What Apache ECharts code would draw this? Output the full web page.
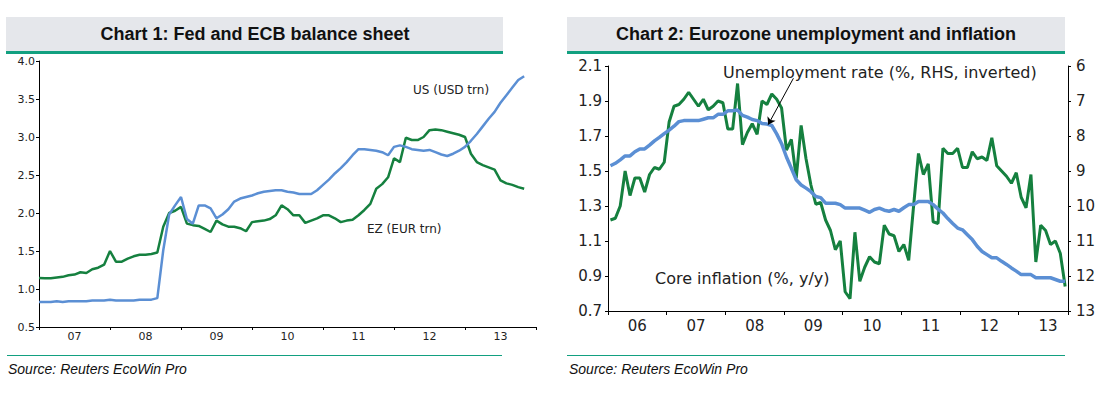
<!DOCTYPE html>
<html><head><meta charset="utf-8">
<script src="https://cdn.jsdelivr.net/npm/echarts@6/dist/echarts.min.js"></script>
<style>html,body{margin:0;padding:0;background:#fff}#c{width:1114px;height:396px}</style>
</head><body><div id="c"></div>
<script>
// ---------- Chart 1: Fed and ECB balance sheet (monthly, from Jan 2007) ----------
const c1StartYear = 2007;
const c1YearLabels = ['07','08','09','10','11','12','13'];
const c1YTicks = [0.5, 1.0, 1.5, 2.0, 2.5, 3.0, 3.5, 4.0];
const usBalance = [
  0.83,0.83,0.83,0.84,0.83,0.84,0.84,0.84,0.84,0.85,0.85,0.85,
  0.86,0.85,0.85,0.85,0.85,0.86,0.86,0.86,0.88,1.51,1.98,2.10,
  2.21,1.92,1.86,2.10,2.10,2.06,1.93,1.98,2.05,2.15,2.19,2.21,
  2.23,2.26,2.28,2.29,2.30,2.30,2.28,2.27,2.25,2.25,2.25,2.30,
  2.37,2.44,2.52,2.59,2.67,2.76,2.84,2.84,2.83,2.82,2.80,2.76,
  2.87,2.89,2.87,2.84,2.83,2.82,2.83,2.80,2.77,2.75,2.78,2.82,
  2.87,2.95,3.04,3.14,3.24,3.33,3.45,3.55,3.65,3.75,3.80
];
const ezBalance = [
  1.145,1.14,1.14,1.15,1.16,1.18,1.19,1.22,1.21,1.26,1.28,1.32,
  1.50,1.36,1.36,1.40,1.43,1.45,1.45,1.46,1.48,1.82,2.00,2.03,
  2.08,1.86,1.84,1.83,1.79,1.75,1.90,1.85,1.82,1.82,1.80,1.76,
  1.88,1.89,1.90,1.92,1.97,2.10,2.05,1.97,1.97,1.87,1.90,1.93,
  1.97,1.97,1.93,1.88,1.90,1.91,1.97,2.04,2.12,2.32,2.38,2.47,
  2.72,2.67,2.99,2.96,2.96,3.00,3.09,3.10,3.09,3.07,3.05,3.03,
  3.00,2.78,2.67,2.63,2.60,2.57,2.43,2.39,2.37,2.34,2.32
];

// ---------- Chart 2: Eurozone unemployment and inflation (monthly, from Jan 2006) ----------
const c2StartYear = 2006;
const c2YearLabels = ['06','07','08','09','10','11','12','13'];
const coreInflation = [
  1.22,1.23,1.30,1.50,1.36,1.46,1.46,1.38,1.48,1.52,1.51,1.55,
  1.78,1.87,1.88,1.91,1.95,1.91,1.87,1.91,1.85,1.87,1.90,1.89,
  1.74,1.74,2.00,1.65,1.72,1.77,1.71,1.90,1.88,1.94,1.91,1.86,
  1.62,1.68,1.46,1.76,1.57,1.42,1.31,1.32,1.22,1.16,1.05,1.10,
  0.81,0.77,1.15,0.87,0.95,1.01,0.98,0.97,1.19,1.14,1.13,1.04,
  1.08,0.99,1.30,1.60,1.48,1.54,1.21,1.20,1.63,1.60,1.60,1.63,
  1.52,1.52,1.61,1.57,1.58,1.56,1.69,1.53,1.50,1.47,1.43,1.49,
  1.35,1.29,1.48,0.98,1.19,1.16,1.08,1.10,1.03,0.84
];
const unemployment = [
  8.85,8.78,8.68,8.57,8.57,8.45,8.37,8.37,8.26,8.14,8.04,7.93,
  7.83,7.72,7.59,7.56,7.56,7.56,7.56,7.52,7.48,7.48,7.38,7.38,
  7.28,7.28,7.26,7.41,7.46,7.53,7.56,7.64,7.66,7.70,7.94,8.22,
  8.60,8.92,9.25,9.40,9.49,9.59,9.73,9.76,9.92,9.92,9.92,9.96,
  10.06,10.06,10.06,10.06,10.12,10.18,10.10,10.06,10.12,10.15,10.10,10.15,
  10.05,9.96,9.96,9.87,9.87,9.87,9.96,10.09,10.20,10.36,10.50,10.63,
  10.68,10.82,10.96,11.15,11.30,11.39,11.48,11.48,11.58,11.67,11.77,11.86,
  11.96,11.96,11.96,12.05,12.05,12.05,12.05,12.10,12.15,12.15
];

// ---------- build ----------
const TEAL = '#12a080', GREY_BG = '#e5e7eb', BLUE = '#5b8fd4', GREEN = '#15803f';
const TICKFONT = 'DejaVu Sans';
const c1Pts = (arr) => arr.map((v, k) => [c1StartYear + k / 12, v]);
const c2Pts = (arr) => arr.map((v, i) => [c2StartYear + (i + 0.5) / 12, v]);
const isInt = (v) => Math.abs(v - Math.round(v)) < 1e-6;

const chart = echarts.init(document.getElementById('c'), null, {renderer: 'svg', width: 1114, height: 396});

const axisLineBlack = {show: true, onZero: false, lineStyle: {color: '#000', width: 1}};

const option = {
  animation: false,
  grid: [
    {left: 39, top: 61, width: 497, height: 266, containLabel: false},
    {left: 608, top: 66, width: 460, height: 245, containLabel: false}
  ],
  xAxis: [
    {
      gridIndex: 0, type: 'value', min: 2007, max: 2014, interval: 1,
      axisLine: axisLineBlack,
      axisTick: {show: true, length: 3, lineStyle: {color: '#000'}},
      splitLine: {show: false},
      axisLabel: {
        fontFamily: TICKFONT, fontSize: 11, color: '#222', margin: 4,
        padding: [0, 0, 0, 71],
        formatter: (v) => (isInt(v) && v < 2014) ? c1YearLabels[Math.round(v) - c1StartYear] : ''
      }
    },
    {
      gridIndex: 1, type: 'value', min: 2006, max: 2013.84, interval: 1,
      axisLine: axisLineBlack,
      axisTick: {show: true, length: 4, lineStyle: {color: '#000'}},
      splitLine: {show: false},
      axisLabel: {
        fontFamily: TICKFONT, fontSize: 15, color: '#222', margin: 7,
        padding: [0, 0, 0, 58.7],
        formatter: (v) => (isInt(v) && Math.round(v) - c2StartYear < c2YearLabels.length) ? c2YearLabels[Math.round(v) - c2StartYear] : ''
      }
    }
  ],
  yAxis: [
    {
      gridIndex: 0, type: 'value', min: c1YTicks[0], max: c1YTicks[c1YTicks.length - 1], interval: 0.5,
      axisLine: axisLineBlack,
      axisTick: {show: true, length: 3, lineStyle: {color: '#000'}},
      splitLine: {show: false},
      axisLabel: {fontFamily: TICKFONT, fontSize: 11, color: '#222', margin: 4, formatter: (v) => v.toFixed(1)}
    },
    {
      gridIndex: 1, type: 'value', min: 0.7, max: 2.1, interval: 0.2,
      axisLine: axisLineBlack,
      axisTick: {show: true, length: 3, lineStyle: {color: '#000'}},
      splitLine: {show: false},
      axisLabel: {fontFamily: TICKFONT, fontSize: 15, color: '#222', margin: 6, formatter: (v) => v.toFixed(1)}
    },
    {
      gridIndex: 1, type: 'value', position: 'right', min: 6, max: 13, interval: 1, inverse: true,
      axisLine: axisLineBlack,
      axisTick: {show: true, length: 3, lineStyle: {color: '#000'}},
      splitLine: {show: false},
      axisLabel: {fontFamily: TICKFONT, fontSize: 15, color: '#222', margin: 8}
    }
  ],
  series: [
    {type: 'line', xAxisIndex: 0, yAxisIndex: 0, data: c1Pts(ezBalance), symbol: 'none',
     lineStyle: {color: GREEN, width: 2.5}, z: 2},
    {type: 'line', xAxisIndex: 0, yAxisIndex: 0, data: c1Pts(usBalance), symbol: 'none',
     lineStyle: {color: BLUE, width: 2.5}, z: 3},
    {type: 'line', xAxisIndex: 1, yAxisIndex: 1, data: c2Pts(coreInflation), symbol: 'none',
     lineStyle: {color: GREEN, width: 3}, z: 2,
     markLine: {
       silent: true, symbol: ['none', 'arrow'], symbolSize: 7,
       label: {show: false},
       lineStyle: {color: '#000', width: 1, type: 'solid'},
       data: [[{coord: [2009.16, 2.03]}, {coord: [2008.73, 1.765]}]]
     }},
    {type: 'line', xAxisIndex: 1, yAxisIndex: 2, data: c2Pts(unemployment), symbol: 'none',
     lineStyle: {color: BLUE, width: 3.5}, z: 3}
  ],
  graphic: [
    // Chart 1 header
    {type: 'rect', shape: {x: 6, y: 17, width: 497, height: 34}, style: {fill: GREY_BG}},
    {type: 'rect', shape: {x: 6, y: 51, width: 497, height: 3}, style: {fill: TEAL}},
    {type: 'text', style: {text: 'Chart 1: Fed and ECB balance sheet', x: 255, y: 34, textAlign: 'center', textVerticalAlign: 'middle',
      fontFamily: 'Liberation Sans', fontWeight: 'bold', fontSize: 18, fill: '#111'}},
    // Chart 2 header
    {type: 'rect', shape: {x: 567, y: 17, width: 498, height: 34}, style: {fill: GREY_BG}},
    {type: 'rect', shape: {x: 567, y: 51, width: 498, height: 3}, style: {fill: TEAL}},
    {type: 'text', style: {text: 'Chart 2: Eurozone unemployment and inflation', x: 816, y: 34, textAlign: 'center', textVerticalAlign: 'middle',
      fontFamily: 'Liberation Sans', fontWeight: 'bold', fontSize: 18, fill: '#111'}},
    // footers
    {type: 'rect', shape: {x: 7, y: 355, width: 495, height: 1}, style: {fill: TEAL}},
    {type: 'rect', shape: {x: 567, y: 355, width: 498, height: 1}, style: {fill: TEAL}},
    {type: 'text', style: {text: 'Source: Reuters EcoWin Pro', x: 8, y: 369, textVerticalAlign: 'middle',
      fontFamily: 'Liberation Sans', fontStyle: 'italic', fontSize: 14, fill: '#111'}},
    {type: 'text', style: {text: 'Source: Reuters EcoWin Pro', x: 569, y: 369, textVerticalAlign: 'middle',
      fontFamily: 'Liberation Sans', fontStyle: 'italic', fontSize: 14, fill: '#111'}},
    // series annotations
    {type: 'text', style: {text: 'US (USD trn)', x: 413, y: 90, textVerticalAlign: 'middle',
      fontFamily: TICKFONT, fontSize: 12, fill: '#222'}},
    {type: 'text', style: {text: 'EZ (EUR trn)', x: 367, y: 229, textVerticalAlign: 'middle',
      fontFamily: TICKFONT, fontSize: 12, fill: '#222'}},
    {type: 'text', style: {text: 'Unemployment rate (%, RHS, inverted)', x: 723, y: 72, textVerticalAlign: 'middle',
      fontFamily: TICKFONT, fontSize: 16, fill: '#222'}},
    {type: 'text', style: {text: 'Core inflation (%, y/y)', x: 655, y: 278, textVerticalAlign: 'middle',
      fontFamily: TICKFONT, fontSize: 16, fill: '#222'}}
  ]
};
chart.setOption(option);
</script>
</body></html>
